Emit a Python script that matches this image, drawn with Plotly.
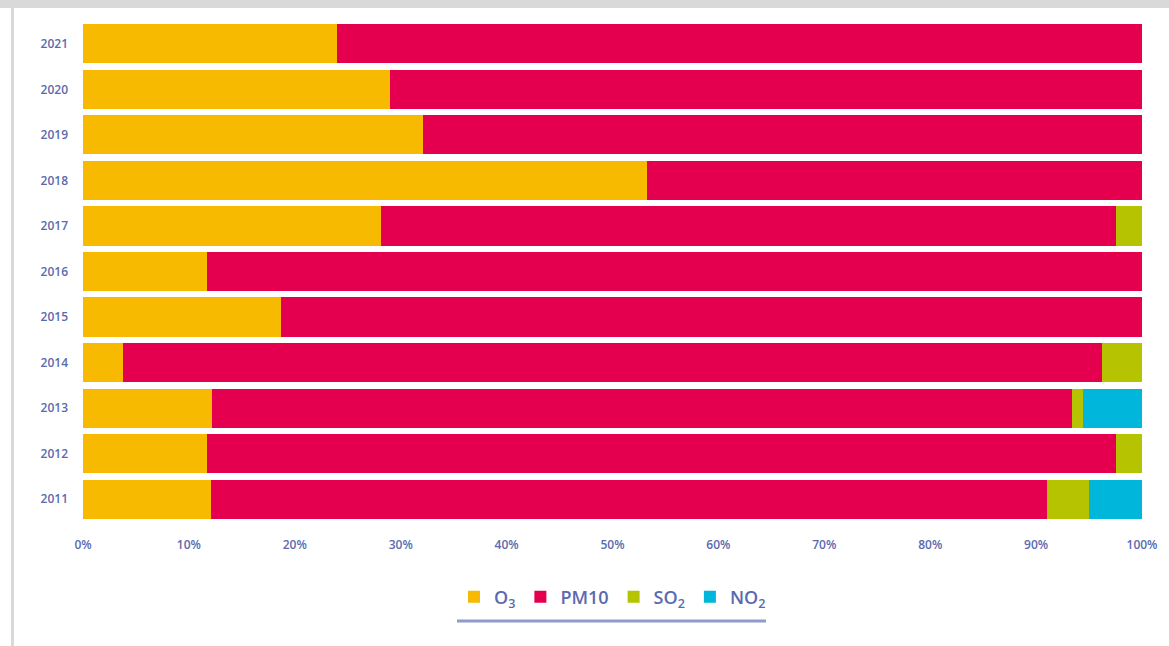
import plotly.graph_objects as go

years = ["2011", "2012", "2013", "2014", "2015", "2016", "2017", "2018", "2019", "2020", "2021"]
o3 = [12.1, 11.7, 12.2, 3.8, 18.7, 11.7, 28.1, 53.3, 32.1, 29.0, 24.0]
pm10 = [78.9, 85.8, 81.2, 92.4, 81.3, 88.3, 69.4, 46.7, 67.9, 71.0, 76.0]
so2 = [4.0, 2.5, 1.0, 3.8, 0, 0, 2.5, 0, 0, 0, 0]
no2 = [5.0, 0, 5.6, 0, 0, 0, 0, 0, 0, 0, 0]

names = ["O<sub>3</sub>", "PM10", "SO<sub>2</sub>", "NO<sub>2</sub>"]
colors = ["#F7BA00", "#E4004F", "#B5C300", "#00B7DB"]
text_col = "#5A6AAE"

fig = go.Figure()
for name, vals, col in zip(names, [o3, pm10, so2, no2], colors):
    fig.add_trace(go.Bar(
        y=years, x=vals, name=name, orientation="h",
        marker=dict(color=col, line=dict(width=0)),
    ))

# px -> paper helpers (plot area 83..1142 x, 21..522 y)
def px(x):
    return (x - 83) / 1059

def py(y):
    return (522 - y) / 501

shapes = [
    dict(type="rect", xref="paper", yref="paper", x0=px(0), x1=px(1169), y0=py(8), y1=py(0),
         fillcolor="#D9D9D9", line=dict(width=0), layer="below"),
    dict(type="rect", xref="paper", yref="paper", x0=px(11), x1=px(14), y0=py(646), y1=py(0),
         fillcolor="#D9D9D9", line=dict(width=0), layer="below"),
    dict(type="line", xref="paper", yref="paper", x0=px(457), x1=px(766), y0=py(621), y1=py(621),
         line=dict(color="#8E9BCB", width=3)),
]

fig.update_layout(
    barmode="stack",
    bargap=0.14,
    width=1169, height=646,
    margin=dict(l=83, r=27, t=21, b=124),
    paper_bgcolor="white", plot_bgcolor="white",
    font=dict(family="Open Sans", color=text_col, size=12),
    xaxis=dict(range=[0, 100], tickvals=[0, 10, 20, 30, 40, 50, 60, 70, 80, 90, 100],
               ticktext=[f"{v}%" for v in range(0, 101, 10)],
               showgrid=False, zeroline=False, showline=False, ticks="",
               ticklabelstandoff=14,
               tickfont=dict(size=12, color=text_col, weight=600)),
    yaxis=dict(showgrid=False, zeroline=False, ticks="", ticklabelstandoff=14,
               tickfont=dict(size=12, color=text_col, weight=600)),
    legend=dict(orientation="h", x=0.5, xanchor="center", y=py(597), yanchor="middle",
                font=dict(size=18, color=text_col, weight=600), traceorder="normal",
                itemwidth=30),
    shapes=shapes,
    showlegend=True,
)

fig.write_html("out.html", config={"displayModeBar": False},
               post_script="document.body.style.margin='0';")
